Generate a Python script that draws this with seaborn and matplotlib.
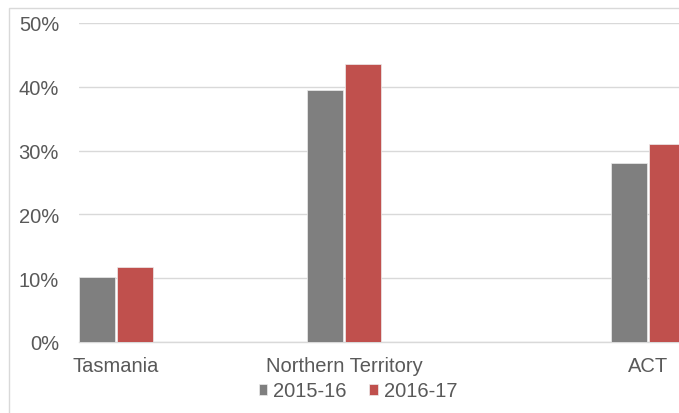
import matplotlib
matplotlib.use("Agg")
import matplotlib.pyplot as plt
import seaborn as sns
import pandas as pd
from matplotlib.patches import Rectangle
from matplotlib.ticker import PercentFormatter, MultipleLocator

# Share by jurisdiction and year
regions = ["Tasmania", "Northern Territory", "ACT"]
years = ["2015-16", "2016-17"]
share_2015_16 = [0.102, 0.395, 0.281]
share_2016_17 = [0.118, 0.435, 0.310]

# Category slots along the axis (blank slots keep the spacing between groups)
slot_order = ["Tasmania", " ", "  ", "Northern Territory", "   ", "    ", "     ", "ACT"]

df = pd.DataFrame({
    "region": regions * 2,
    "year": [years[0]] * 3 + [years[1]] * 3,
    "share": share_2015_16 + share_2016_17,
})

sns.set_theme(style="white")
plt.rcParams["font.family"] = ["Liberation Sans", "DejaVu Sans"]

fig = plt.figure(figsize=(6.79, 4.14), dpi=100)
ax = fig.add_axes([79 / 679, 71 / 414, 1 - 79 / 679, (343 - 24) / 414])

palette = {"2015-16": "#7F7F7F", "2016-17": "#C0504D"}
sns.barplot(data=df, x="region", y="share", hue="year", order=slot_order,
            hue_order=years, palette=palette, width=1.0, gap=0.06,
            edgecolor="#EDEDED", linewidth=0.5, saturation=1, ax=ax,
            zorder=3)

ax.set_ylim(0, 0.5)
ax.set_xlim(-0.487, 7.41)
ax.yaxis.set_major_locator(MultipleLocator(0.1))
ax.yaxis.set_major_formatter(PercentFormatter(1.0, decimals=0))
ax.grid(axis="y", color="#D9D9D9", linewidth=1.0, zorder=0)
ax.set_axisbelow(True)
ax.set_xlabel("")
ax.set_ylabel("")
for side in ["top", "right", "left"]:
    ax.spines[side].set_visible(False)
ax.spines["bottom"].set_color("#D9D9D9")
ax.spines["bottom"].set_linewidth(1.0)
ax.tick_params(axis="y", length=0, pad=14.4, labelsize=14.5, labelcolor="#595959")
ax.tick_params(axis="x", length=0, pad=10, labelsize=14.5, labelcolor="#595959")

handles, labels = ax.get_legend_handles_labels()
ax.legend_.remove()
fig.legend(handles, labels, loc="center", bbox_to_anchor=(358 / 679, 1 - 392 / 414),
           ncol=2, frameon=False, fontsize=14.5, labelcolor="#595959",
           handlelength=0.42, handleheight=0.42, handletextpad=0.3,
           columnspacing=1.1, borderaxespad=0)

# Chart frame
fig.patches.append(Rectangle((9 / 679, -0.1), 1.2, 1 - 9 / 414 + 0.1,
                             transform=fig.transFigure, fill=False,
                             edgecolor="#D9D9D9", linewidth=1.0))

fig.savefig("out.png", dpi=100)
